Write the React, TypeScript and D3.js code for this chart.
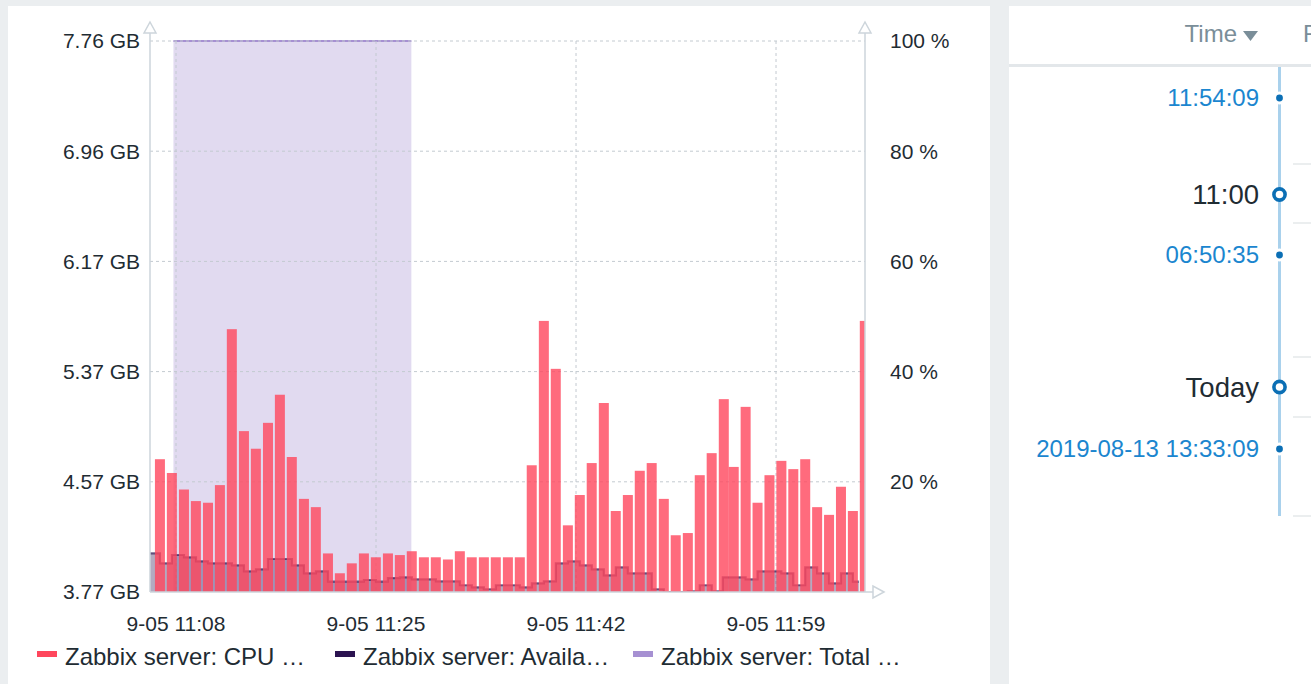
import React from "react";
import * as d3 from "d3";

// graph window (one hour) and the day it belongs to
const day = "2019-09-05";
const viewStart = "11:06:30";
const viewEnd = "12:06:30";

// Zabbix server: CPU utilization, % (bars, right axis)
const cpuTimes = [
  "11:07:20", "11:08:20", "11:09:21", "11:10:21", "11:11:22", "11:12:22", "11:13:22", "11:14:23", "11:15:23", "11:16:24",
  "11:17:24", "11:18:24", "11:19:25", "11:20:25", "11:21:26", "11:22:26", "11:23:26", "11:24:27", "11:25:27", "11:26:28",
  "11:27:28", "11:28:28", "11:29:29", "11:30:29", "11:31:30", "11:32:30", "11:33:30", "11:34:31", "11:35:31", "11:36:32",
  "11:37:32", "11:38:32", "11:39:33", "11:40:33", "11:41:34", "11:42:34", "11:43:34", "11:44:35", "11:45:35", "11:46:36",
  "11:47:36", "11:48:36", "11:49:37", "11:50:37", "11:51:38", "11:52:38", "11:53:38", "11:54:39", "11:55:29", "11:56:29",
  "11:57:29", "11:58:29", "11:59:29", "12:00:29", "12:01:29", "12:02:29", "12:03:29", "12:04:29", "12:05:29", "12:06:29"
];
const cpuLoad = [
  24.1, 21.6, 18.6, 16.5, 16.2, 19.4, 47.7, 29.2, 26.0, 30.7,
  35.8, 24.5, 16.9, 15.4, 7.0, 3.4, 5.2, 7.0, 6.3, 7.0,
  6.7, 7.4, 6.3, 6.3, 5.9, 7.4, 6.3, 6.3, 6.3, 6.3,
  6.3, 23.0, 49.2, 40.5, 12.1, 17.6, 23.4, 34.3, 14.7, 17.6,
  22.0, 23.4, 16.9, 10.3, 10.7, 21.2, 25.2, 35.0, 22.7, 33.6,
  16.2, 21.2, 23.8, 22.3, 24.1, 15.4, 14.0, 19.1, 14.7, 49.2
];

// Zabbix server: Available memory, GB (staircase, left axis)
const availTimes = [
  "11:05:50",
  "11:06:50", "11:07:50", "11:08:51", "11:09:51", "11:10:52", "11:11:52", "11:12:52", "11:13:53", "11:14:53", "11:15:54",
  "11:16:54", "11:17:54", "11:18:55", "11:19:55", "11:20:56", "11:21:56", "11:22:56", "11:23:57", "11:24:57", "11:25:58",
  "11:26:58", "11:27:58", "11:28:59", "11:29:59", "11:31:00", "11:32:00", "11:33:00", "11:34:01", "11:35:01", "11:36:02",
  "11:37:02", "11:38:02", "11:39:03", "11:40:03", "11:41:04", "11:42:04", "11:43:04", "11:44:05", "11:45:05", "11:46:06",
  "11:47:06", "11:48:06", "11:49:07", "11:50:07", "11:51:08", "11:52:08", "11:53:08", "11:54:09", "11:54:59", "11:55:59",
  "11:56:59", "11:57:59", "11:58:59", "11:59:59", "12:00:59", "12:01:59", "12:02:59", "12:03:59", "12:04:59", "12:05:59"
];
const availGb = [
  4.05,
  4.05, 3.978, 4.038, 4.021, 3.992, 3.978, 3.978, 3.963, 3.92, 3.934,
  4.009, 4.009, 3.963, 3.905, 3.92, 3.845, 3.845, 3.845, 3.857, 3.845,
  3.871, 3.876, 3.862, 3.862, 3.847, 3.847, 3.819, 3.804, 3.79, 3.819,
  3.819, 3.804, 3.833, 3.847, 3.978, 3.992, 3.963, 3.934, 3.891, 3.949,
  3.905, 3.905, 3.79, 3.77, 3.77, 3.775, 3.819, 3.775, 3.876, 3.876,
  3.862, 3.92, 3.92, 3.905, 3.819, 3.949, 3.905, 3.833, 3.905, 3.845
];

// Zabbix server: Total memory, GB (filled area, left axis)
const totalTimes = ["11:08:28", "11:28:26"];
const totalGb = [7.76, 7.76];

const gbDomain = [3.77, 7.76];
const gbTicks = [3.77, 4.568, 5.366, 6.164, 6.962, 7.76];
const gbTickLabels = ["3.77 GB", "4.57 GB", "5.37 GB", "6.17 GB", "6.96 GB", "7.76 GB"];
const pctTicks = [20, 40, 60, 80, 100];
const timeTicks = ["11:08:41", "11:25:28", "11:42:15", "11:59:02"];

const legendLabels = ["Zabbix server: CPU …", "Zabbix server: Availa…", "Zabbix server: Total …"];
const legendColors = ["#ff465c", "#2b1350", "#a690d2"];

const font = "'Liberation Sans', Arial, sans-serif";
const parseClock = d3.timeParse("%Y-%m-%d %H:%M:%S");
const at = (clock: string) => parseClock(`${day} ${clock}`) as Date;
const fmtTime = d3.timeFormat("%-m-%d %H:%M");

const left = 150, right = 865, top = 41, bottom = 592;

function Chart() {
  const x = d3.scaleTime().domain([at(viewStart), at(viewEnd)]).range([left, right]);
  const yGb = d3.scaleLinear().domain(gbDomain).range([bottom, top]);
  const yPct = d3.scaleLinear().domain([0, 100]).range([bottom, top]);

  const avail = availTimes.map((t, i) => ({ t: at(t), v: availGb[i] }));
  const total = totalTimes.map((t, i) => ({ t: at(t), v: totalGb[i] }));

  const availArea = d3.area<any>().curve(d3.curveStep).x(d => x(d.t)).y0(bottom).y1(d => yGb(d.v));
  const availLine = d3.line<any>().curve(d3.curveStep).x(d => x(d.t)).y(d => yGb(d.v));
  const totalArea = d3.area<any>().x(d => x(d.t)).y0(bottom).y1(d => yGb(d.v));
  const totalLine = d3.line<any>().x(d => x(d.t)).y(d => yGb(d.v));

  const axisColor = "#cdd5db";
  const gridColor = "#c3cad0";
  const textColor = "#1f2c33";

  return (
    <g>
      <defs>
        <clipPath id="plot-clip">
          <rect x={left} y={top - 2} width={right - left} height={bottom - top + 2} />
        </clipPath>
      </defs>

      <g clipPath="url(#plot-clip)">
        <path d={totalArea(total) || ""} fill="#9d85cc" fillOpacity={0.3} />
        <path d={totalLine(total) || ""} fill="none" stroke="#a690d2" strokeWidth={2} />
      </g>

      {gbTicks.slice(1).map(v => (
        <line key={v} x1={left} x2={right} y1={yGb(v)} y2={yGb(v)} stroke={gridColor} strokeDasharray="3,3" />
      ))}
      {timeTicks.map(t => (
        <line key={t} x1={x(at(t))} x2={x(at(t))} y1={top} y2={bottom} stroke={gridColor} strokeDasharray="3,3" />
      ))}

      <g clipPath="url(#plot-clip)">
        <path d={availArea(avail) || ""} fill="#2b1350" fillOpacity={0.36} />
        <path d={availLine(avail) || ""} fill="none" stroke="#2b1350" strokeOpacity={0.65} strokeWidth={2.2} />
        {cpuTimes.map((t, i) => (
          <rect
            key={t}
            x={x(at(t)) - 5}
            width={10}
            y={yPct(cpuLoad[i])}
            height={bottom - yPct(cpuLoad[i])}
            fill="#ff465c"
            fillOpacity={0.8}
          />
        ))}
      </g>

      {/* axes */}
      <line x1={left} x2={left} y1={bottom} y2={27} stroke={axisColor} strokeWidth={1.5} />
      <path d={`M${left},22 L${left + 6},33 L${left - 6},33 Z`} fill="#fff" stroke={axisColor} strokeWidth={1.5} />
      <line x1={right} x2={right} y1={bottom} y2={27} stroke={axisColor} strokeWidth={1.5} />
      <path d={`M${right},22 L${right + 6},33 L${right - 6},33 Z`} fill="#fff" stroke={axisColor} strokeWidth={1.5} />
      <line x1={left} x2={878} y1={bottom} y2={bottom} stroke={axisColor} strokeWidth={1.5} />
      <path d={`M884,${bottom} L873,${bottom - 6} L873,${bottom + 6} Z`} fill="#fff" stroke={axisColor} strokeWidth={1.5} />

      <g fontFamily={font} fontSize={21} fill={textColor}>
        {gbTicks.map((v, i) => (
          <text key={v} x={140} y={yGb(v)} dy="0.35em" textAnchor="end">{gbTickLabels[i]}</text>
        ))}
        {pctTicks.map(v => (
          <text key={v} x={890} y={yPct(v)} dy="0.35em">{`${v} %`}</text>
        ))}
        {timeTicks.map(t => (
          <text key={t} x={x(at(t))} y={631} textAnchor="middle">{fmtTime(at(t))}</text>
        ))}
      </g>

      <g fontFamily={font} fontSize={24} fill={textColor}>
        {legendLabels.map((label, i) => (
          <g key={label} transform={`translate(${37 + i * 298},0)`}>
            <rect x={0} y={651} width={20} height={6} fill={legendColors[i]} />
            <text x={28} y={665}>{label}</text>
          </g>
        ))}
      </g>
    </g>
  );
}

function Timeline() {
  const blue = "#0b6fb5";
  const lineX = 1279.5;
  const dot = (y: number) => (
    <g>
      <circle cx={lineX} cy={y} r={6.5} fill="#fff" />
      <circle cx={lineX} cy={y} r={3.4} fill={blue} />
    </g>
  );
  const ring = (y: number) => (
    <circle cx={lineX} cy={y} r={5.6} fill="#fff" stroke={blue} strokeWidth={3.6} />
  );
  const sepY = [164, 223, 357, 417, 516];
  return (
    <g fontFamily={font}>
      <rect x={1009} y={6} width={310} height={690} fill="#fff" />
      <text x={1237} y={42} fontSize={24} fill="#7a8e99" textAnchor="end">Time</text>
      <path d="M1243,31 L1258,31 L1250.5,41 Z" fill="#7a8e99" />
      <text x={1303} y={42} fontSize={24} fill="#7a8e99">Recovery time</text>
      <rect x={1009} y={64} width={310} height={3} fill="#e3e7ea" />
      {sepY.map(y => (
        <line key={y} x1={1293} x2={1311} y1={y} y2={y} stroke="#e4e8ea" strokeWidth={1.5} />
      ))}
      <rect x={lineX - 1.5} y={67} width={3} height={449} fill="#a9d1ec" />
      <text x={1259} y={106} fontSize={24} fill="#1b86cf" textAnchor="end">11:54:09</text>
      {dot(98)}
      <text x={1259} y={204} fontSize={27.5} fill="#1f2c33" textAnchor="end">11:00</text>
      {ring(194.5)}
      <text x={1259} y={263} fontSize={24} fill="#1b86cf" textAnchor="end">06:50:35</text>
      {dot(255)}
      <text x={1259} y={397} fontSize={27.5} fill="#1f2c33" textAnchor="end">Today</text>
      {ring(387)}
      <text x={1259} y={457} fontSize={24} fill="#1b86cf" textAnchor="end">2019-08-13 13:33:09</text>
      {dot(449)}
    </g>
  );
}

export default function App() {
  return (
    <div style={{ position: "absolute", left: 0, top: 0 }}>
      <svg width={1311} height={684} style={{ display: "block" }}>
        <rect width={1311} height={684} fill="#ebeef0" />
        <rect x={8} y={6} width={982} height={690} fill="#fff" />
        <Chart />
        <Timeline />
      </svg>
    </div>
  );
}
